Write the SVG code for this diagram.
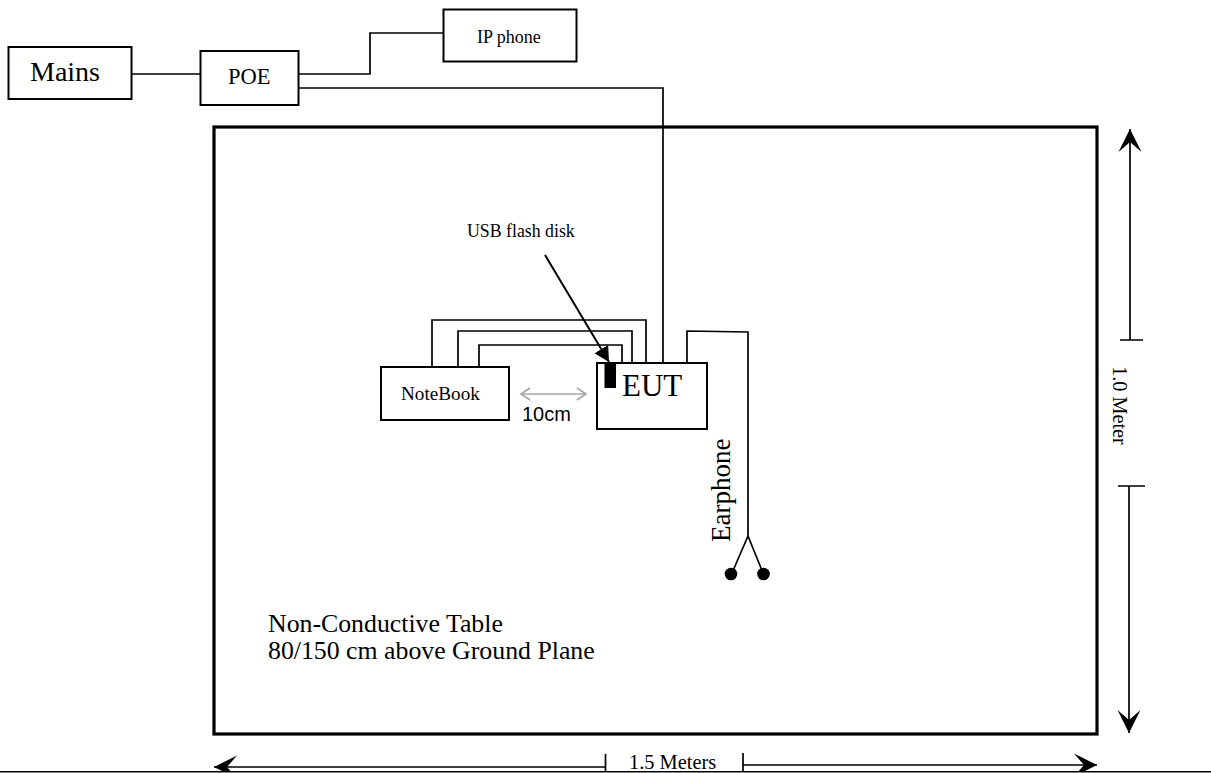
<svg xmlns="http://www.w3.org/2000/svg" width="1211" height="773" viewBox="0 0 1211 773">
<style>
text{font-family:"Liberation Serif","Times New Roman",serif;fill:#000}
.b{fill:#fff;stroke:#000;stroke-width:2}
.w{fill:none;stroke:#000;stroke-width:1.7}
.d{fill:none;stroke:#000;stroke-width:1.7}
</style>
<defs>
<marker id="ah" markerUnits="userSpaceOnUse" markerWidth="24" markerHeight="26" refX="23" refY="12" orient="auto-start-reverse"><path d="M0 0.500 L23 12 L0 23.500 L10 12Z" fill="#000"/></marker>
<marker id="gh" markerUnits="userSpaceOnUse" markerWidth="12" markerHeight="16" refX="10" refY="7" orient="auto-start-reverse"><path d="M1 1 L10 7 L1 13" fill="none" stroke="#a6a6a6" stroke-width="1.7"/></marker>
<marker id="uh" markerUnits="userSpaceOnUse" markerWidth="18" markerHeight="18" refX="15" refY="8" orient="auto"><path d="M0 0 L15 8 L0 16Z" fill="#000"/></marker>
</defs>
<g id="table"><rect x="214" y="127" width="883" height="607" fill="none" stroke="#000" stroke-width="3.200"/>
<text x="268" y="632" font-size="25.800">Non-Conductive Table</text>
<text x="268" y="659" font-size="25.800">80/150 cm above Ground Plane</text></g>
<g id="connectors">
<path class="w" d="M132 74H200"/>
<path class="w" d="M298 74H370V33H443"/>
<path class="w" d="M298 88H663V364"/>
<path class="w" d="M432 367V320H646V363"/>
<path class="w" d="M458 367V331H632V363"/>
<path class="w" d="M479 367V345H622V363"/>
<path class="w" d="M687 363V331L748 332V536"/>
<path class="w" d="M748 536L732 573M748 536L763 573"/>
<path d="M545 255L609 362" fill="none" stroke="#000" stroke-width="2" marker-end="url(#uh)"/>
<path d="M521 394H586" fill="none" stroke="#a6a6a6" stroke-width="1.7" marker-start="url(#gh)" marker-end="url(#gh)"/>
<path class="d" d="M1130 340V129" marker-end="url(#ah)"/>
<path class="d" d="M1120 340H1143M1118 486H1145"/>
<path class="d" d="M1129 486V733" marker-end="url(#ah)"/>
<path class="d" d="M605 767H214" marker-end="url(#ah)"/>
<path class="d" d="M743 765H1097" marker-end="url(#ah)"/>
<path class="d" d="M605.500 754V772M743 753V772"/>
</g>
<rect x="0" y="771" width="1211" height="2" fill="#fff"/>
<path d="M0 771.700H1211" fill="none" stroke="#000" stroke-width="1.600"/>
<g id="mains"><rect class="b" x="8.500" y="47" width="123" height="52"/><text x="30" y="81" font-size="28">Mains</text></g>
<g id="poe"><rect class="b" x="200.500" y="51" width="98" height="54"/><text x="228" y="84" font-size="22.500">POE</text></g>
<g id="ip-phone"><rect class="b" x="443.500" y="9.500" width="133" height="52"/><text x="477" y="43" font-size="18">IP phone</text></g>
<g id="notebook"><rect class="b" x="381" y="367" width="128" height="53"/><text x="401" y="400" font-size="19.200">NoteBook</text></g>
<g id="eut"><rect class="b" x="597" y="363" width="110" height="66"/><text x="622" y="396" font-size="31">EUT</text></g>
<g id="usb"><rect x="604.500" y="363" width="11.500" height="25" fill="#000"/><text x="467" y="237" font-size="17.800">USB flash disk</text></g>
<g id="earphone"><circle cx="731" cy="574" r="6.300" fill="#000"/><circle cx="763.500" cy="574" r="6.300" fill="#000"/><text transform="translate(730 542) rotate(-90)" font-size="27">Earphone</text></g>
<text x="522" y="421" font-size="20" style="font-family:'Liberation Sans',Arial,sans-serif">10cm</text>
<text transform="translate(1113 366) rotate(90)" font-size="20.300">1.0 Meter</text>
<text x="629" y="769" font-size="20.400">1.5 Meters</text>
</svg>
